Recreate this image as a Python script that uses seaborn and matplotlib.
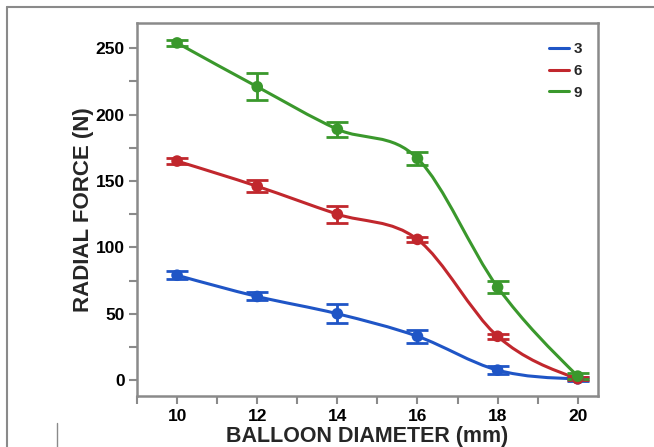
import numpy as np
import pandas as pd
import matplotlib
matplotlib.use("Agg")
import matplotlib.pyplot as plt
from matplotlib.path import Path
from matplotlib.patches import PathPatch
from matplotlib.lines import Line2D
import seaborn as sns

# ---- data ----
diameters = [10, 12, 14, 16, 18, 20]
force_3 = [79, 63, 50, 33, 7.5, 1]
err_3 = [3, 3, 7, 5, 3, 1.5]
force_6 = [165, 146, 125, 106, 33, 1]
err_6 = [2.5, 4.5, 6.5, 2, 2, 1]
force_9 = [254, 221, 189, 167, 70, 3]
err_9 = [2, 10, 5.5, 5, 4.5, 2]
series_labels = ["3", "6", "9"]
colors = ["#1f55c6", "#c1272d", "#3a982c"]

df = pd.DataFrame({
    "diameter": diameters * 3,
    "force": force_3 + force_6 + force_9,
    "err": err_3 + err_6 + err_9,
    "group": [l for l in series_labels for _ in diameters],
})

sns.set_theme(style="white")
plt.rcParams["font.family"] = ["Liberation Sans", "DejaVu Sans"]
plt.rcParams["font.weight"] = "bold"

fig = plt.figure(figsize=(6.54, 4.47), dpi=100)
ax = fig.add_axes([0.2095, 0.114, 0.7045, 0.8345])


def smooth_path(x, y):
    """Cubic Bezier path (Catmull-Rom style tangents) through the data points."""
    x = np.asarray(x, float)
    y = np.asarray(y, float)
    n = len(x)
    h = np.diff(x)
    d = np.diff(y) / h
    m = np.zeros(n)
    for i in range(1, n - 1):
        m[i] = (y[i + 1] - y[i - 1]) / (x[i + 1] - x[i - 1])
    m[0] = (3 * d[0] - m[1]) / 2
    m[-1] = (3 * d[-1] - m[-2]) / 2
    verts = [(x[0], y[0])]
    codes = [Path.MOVETO]
    for i in range(n - 1):
        dx = h[i] / 3
        verts += [(x[i] + dx, y[i] + m[i] * dx),
                  (x[i + 1] - dx, y[i + 1] - m[i + 1] * dx),
                  (x[i + 1], y[i + 1])]
        codes += [Path.CURVE4] * 3
    return Path(verts, codes)


handles = []
for lab, col in zip(series_labels, colors):
    sub = df[df["group"] == lab]
    patch = PathPatch(smooth_path(sub["diameter"], sub["force"]),
                      facecolor="none", edgecolor=col, lw=2.2, zorder=2)
    ax.add_patch(patch)
    ax.errorbar(sub["diameter"], sub["force"], yerr=sub["err"], fmt="none",
                ecolor=col, elinewidth=2, capsize=8, capthick=2, zorder=3)
    handles.append(Line2D([0], [0], color=col, lw=2.2))

sns.scatterplot(data=df, x="diameter", y="force", hue="group",
                palette=colors, s=70, edgecolor="none", legend=False,
                ax=ax, zorder=4)

ax.set_xlim(9, 20.5)
ax.set_ylim(-12, 269)
ax.set_xticks([10, 12, 14, 16, 18, 20])
ax.set_xticks(np.arange(9, 21, 1), minor=True)
ax.set_yticks([0, 50, 100, 150, 200, 250])
ax.set_yticks(np.arange(0, 260, 25), minor=True)
ax.tick_params(axis="both", which="both", direction="out", color="#8a8a8a",
               width=1.5, labelsize=12.5, labelcolor="black")
ax.tick_params(axis="both", which="major", length=6, pad=3)
ax.tick_params(axis="both", which="minor", length=6)
ax.tick_params(axis="x", which="both", bottom=True)
ax.tick_params(axis="y", which="both", left=True)
for t in ax.get_xticklabels() + ax.get_yticklabels():
    t.set_fontweight("bold")

for sp in ax.spines.values():
    sp.set_color("#8a8a8a")
    sp.set_linewidth(1.8)

ax.set_xlabel("BALLOON DIAMETER (mm)", fontsize=15.5, fontweight="bold", labelpad=1.5)
ax.set_ylabel("RADIAL FORCE (N)", fontsize=16, fontweight="bold", labelpad=1)

leg = ax.legend(handles, series_labels, loc="upper right", frameon=False,
                handlelength=1.3, handletextpad=0.3, labelspacing=0.5,
                prop={"weight": "bold", "size": 11}, bbox_to_anchor=(0.995, 0.985))

# outer frame lines
fig.add_artist(Line2D([7 / 654, 7 / 654], [0, 1 - 7 / 447], transform=fig.transFigure,
                      color="#8a8a8a", lw=1.5))
fig.add_artist(Line2D([7 / 654, 1], [1 - 7 / 447, 1 - 7 / 447], transform=fig.transFigure,
                      color="#8a8a8a", lw=1.5))
fig.add_artist(Line2D([57 / 654, 57 / 654], [0, 1 - 423 / 447], transform=fig.transFigure,
                      color="#8a8a8a", lw=1.0))

fig.savefig("out.png", dpi=100)
